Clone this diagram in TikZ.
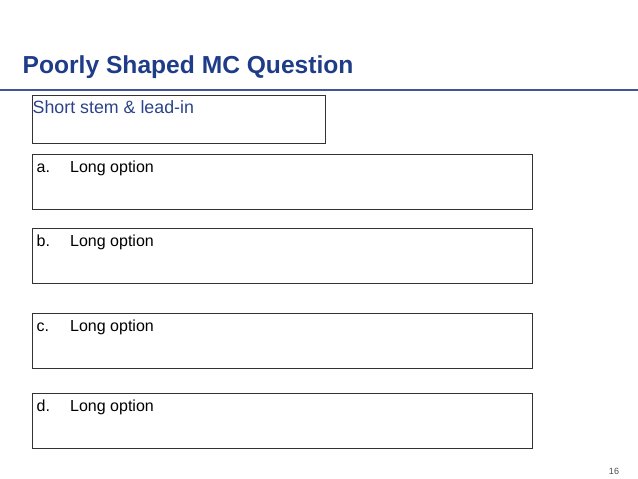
\documentclass[tikz,border=0pt]{standalone}
\usepackage{fontspec}
\setmainfont{Liberation Sans}
\usetikzlibrary{positioning}
\definecolor{titleblue}{HTML}{1F3C88}
\definecolor{stemblue}{HTML}{2B4489}
\definecolor{ruleblue}{HTML}{3F5598}

\begin{document}
\begin{tikzpicture}[
    x=1pt, y=-1pt,
    title text/.style={anchor=base west, inner sep=0pt, text=titleblue, font=\fontsize{24.6}{28}\selectfont\bfseries},
    rule line/.style={draw=ruleblue, line width=1.5pt},
    stem box/.style={draw=black!80, line width=1pt, minimum width=293pt, minimum height=48pt, inner sep=0pt, anchor=north west},
    stem text/.style={anchor=base west, inner sep=0pt, text=stemblue, font=\fontsize{17.8}{20}\selectfont},
    option box/.style={draw=black!80, line width=1pt, minimum width=500pt, minimum height=55pt, inner sep=0pt},
    option text/.style={anchor=base west, inner sep=0pt, font=\fontsize{16}{18}\selectfont},
    page num/.style={anchor=base, inner sep=0pt, text=black!70, font=\fontsize{9}{10}\selectfont},
]
\useasboundingbox (0,0) rectangle (638,479);
\node[title text] (title) at (22.5,73) {Poorly Shaped MC Question};
\coordinate (rule-l) at (0,90);
\coordinate (rule-r) at (638,90);
\draw[rule line] (rule-l) -- (rule-r);
% stem
\node[stem box] (stem) at (32,95) {};
\node[stem text] (stem-text) at ([shift={(0.5,18)}]stem.north west) {Short stem \& lead-in};
% options
\node[option box, anchor=north west] (a-box) at (32,154) {};
\node[option box, below=18pt of a-box] (b-box) {};
\node[option box, below=29pt of b-box] (c-box) {};
\node[option box, below=24pt of c-box] (d-box) {};
\foreach \o in {a,b,c,d} {
    \node[option text] (\o-letter) at ([shift={(4.5,18.5)}]\o-box.north west) {\o.};
    \node[option text] (\o-text) at ([shift={(38,18.5)}]\o-box.north west) {Long option};
}
\node[page num] (page) at (614,474) {16};
\end{tikzpicture}
\end{document}
